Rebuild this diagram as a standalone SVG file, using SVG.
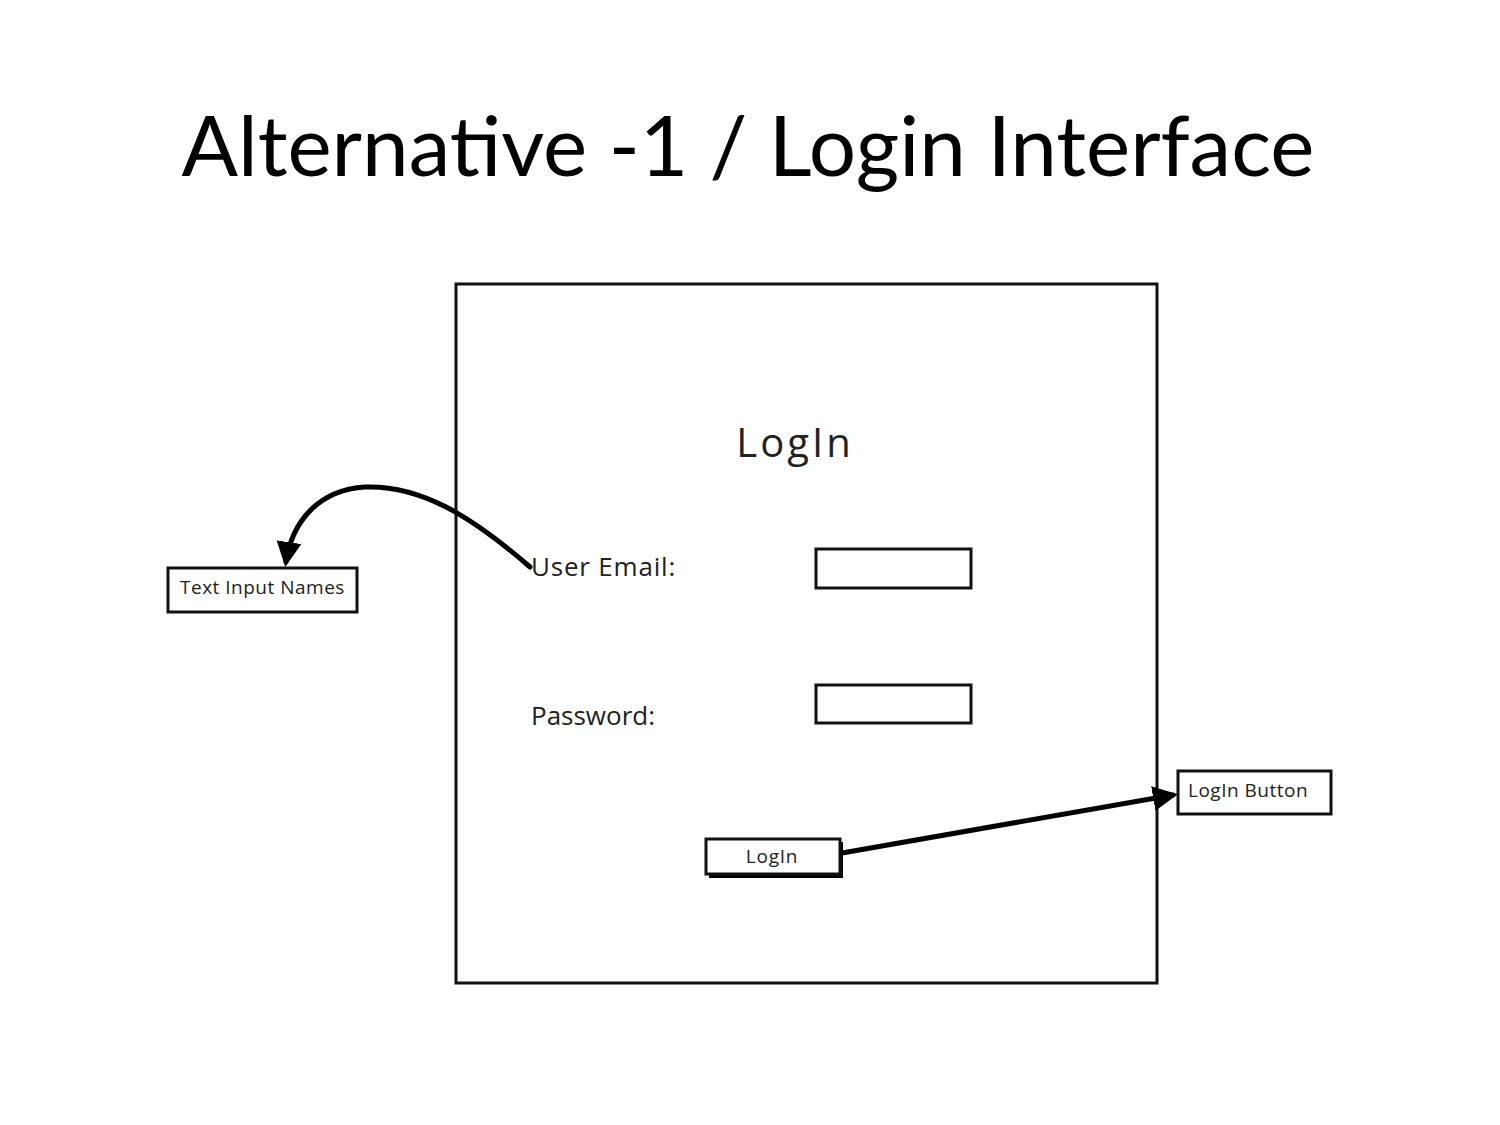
<svg xmlns="http://www.w3.org/2000/svg" width="1500" height="1125" viewBox="0 0 1500 1125">
<style>
.box{fill:#fff;stroke:#111;stroke-width:3}
.sk{font-family:"Open Sans","Liberation Sans",sans-serif;fill:#222}
.con{fill:none;stroke:#000;stroke-width:5;stroke-linecap:round}
</style>
<defs>
<marker id="ah" viewBox="0 0 10 10" refX="8" refY="5" markerWidth="5" markerHeight="5" orient="auto" markerUnits="strokeWidth">
<path d="M0,0 L10,5 L0,10 Z" fill="#000"/>
</marker>
</defs>
<rect width="1500" height="1125" fill="#fff"/>
<text x="748" y="176" text-anchor="middle" font-family="Lato,'Liberation Sans',sans-serif" font-size="83.6" fill="#000">Alternative -1 / Login Interface</text>
<g id="frame"><rect x="456" y="284" width="701" height="699" class="box"/></g>
<g id="title-login"><text x="795" y="457" text-anchor="middle" class="sk" font-size="40" letter-spacing="3">LogIn</text></g>
<g id="email-label"><text x="531" y="576" class="sk" font-size="26" letter-spacing="0.8">User Email:</text></g>
<g id="email-input"><rect x="816" y="549" width="155" height="39" class="box"/></g>
<g id="password-label"><text x="531" y="725" class="sk" font-size="26">Password:</text></g>
<g id="password-input"><rect x="816" y="685" width="155" height="38" class="box"/></g>
<g id="login-button">
<rect x="709" y="842" width="134" height="36" fill="#000"/>
<rect x="706" y="839" width="134" height="35" class="box"/>
<text x="772" y="863" text-anchor="middle" class="sk" font-size="19" letter-spacing="0.8">LogIn</text>
</g>
<g id="text-input-names"><rect x="168" y="568" width="189" height="44" class="box"/><text x="180" y="594" class="sk" font-size="19" letter-spacing="0.5">Text Input Names</text></g>
<g id="login-button-note"><rect x="1178" y="771" width="153" height="43" class="box"/><text x="1188" y="797" class="sk" font-size="19" letter-spacing="0.5">LogIn Button</text></g>
<g id="connectors">
<path class="con" d="M 530 567 C 470 515, 420 485, 365 487 C 318 490, 292 522, 286 562" marker-end="url(#ah)"/>
<path class="con" d="M 842 853 L 1173 795" marker-end="url(#ah)"/>
</g>
</svg>
